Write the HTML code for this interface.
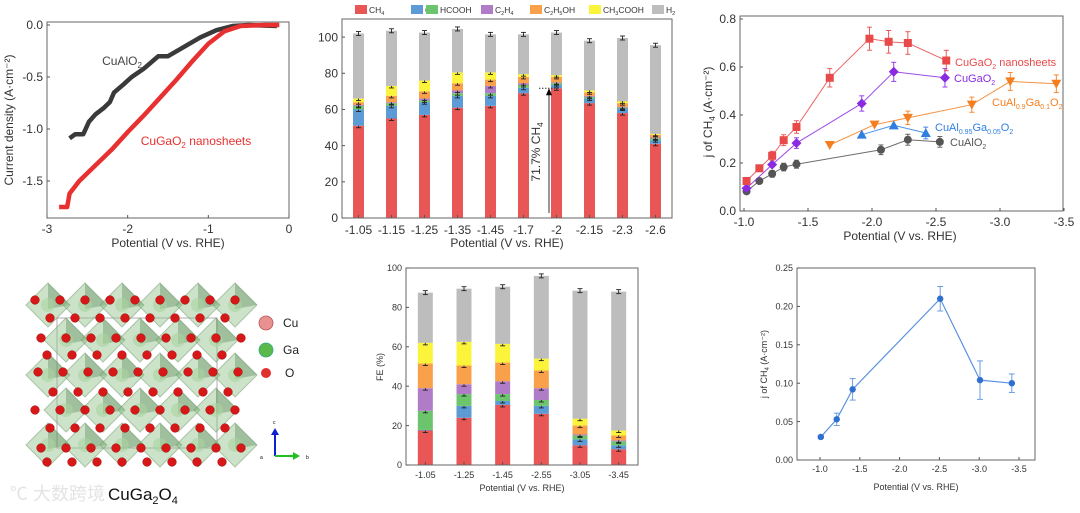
<!DOCTYPE html>
<html><head><meta charset="utf-8"><style>
html,body{margin:0;padding:0;background:#fff;width:1080px;height:513px;overflow:hidden}
svg{display:block;font-family:"Liberation Sans","Noto Sans CJK SC",sans-serif}
</style></head><body>
<svg id="fig" width="1080" height="513" viewBox="0 0 1080 513" xmlns="http://www.w3.org/2000/svg"></svg>
<script>
// ---------- Data ----------
const lsvAlO2V = [-2.72,-2.65,-2.55,-2.48,-2.4,-2.3,-2.22,-2.17,-2.05,-1.95,-1.8,-1.68,-1.62,-1.5,-1.3,-1.1,-0.9,-0.7,-0.5,-0.15];
const lsvAlO2J = [-1.09,-1.05,-1.05,-0.93,-0.86,-0.8,-0.74,-0.65,-0.57,-0.5,-0.42,-0.34,-0.3,-0.3,-0.21,-0.12,-0.05,-0.01,0,-0.01];
const lsvGaV = [-2.85,-2.75,-2.72,-2.6,-2.4,-2.2,-2.0,-1.8,-1.6,-1.4,-1.2,-1.0,-0.8,-0.6,-0.3,-0.12];
const lsvGaJ = [-1.75,-1.75,-1.62,-1.5,-1.35,-1.2,-1.03,-0.87,-0.7,-0.53,-0.35,-0.18,-0.06,-0.01,0,0];
const lsvXTicks = [-3,-2,-1,0];
const lsvYTicks = [0.0,-0.5,-1.0,-1.5];
const feCats = ["-1.05","-1.15","-1.25","-1.35","-1.45","-1.7","-2","-2.15","-2.3","-2.6"];
const feCH4 = [51,55,57,61,62,69,71.7,63.5,58,41];
const feCO = [9,7,7,6.5,5.5,3,1.8,2.5,2.5,2];
const feHCOOH = [2,1.5,1,1.5,1.5,1.5,1,1,0.5,1];
const feC2H4 = [0.5,0.5,1,1.5,4,1,0.5,0.5,0.5,0.5];
const feC2H5OH = [1.5,3.5,4,4,3.5,3.5,3,2,2,1.5];
const feCH3COOH = [2,5.5,6,6,4,1.5,1,1,1,0.5];
const feH2 = [36,30.5,26.5,24,21,22,23.5,27.5,35,49];
const feYTicks = [0,20,40,60,80,100];
const seriesNames = ["CH4","CO","HCOOH","C2H4","C2H5OH","CH3COOH","H2"];
const jNsV = [-1.02,-1.12,-1.22,-1.31,-1.41,-1.67,-1.98,-2.13,-2.28,-2.58];
const jNsJ = [0.125,0.178,0.23,0.295,0.35,0.555,0.718,0.705,0.70,0.627];
const jGaV = [-1.02,-1.22,-1.41,-1.92,-2.17,-2.57];
const jGaJ = [0.095,0.193,0.283,0.448,0.58,0.555];
const jAl9V = [-1.67,-2.02,-2.28,-2.78,-3.08,-3.44];
const jAl9J = [0.275,0.36,0.388,0.443,0.54,0.53];
const jAl95V = [-1.92,-2.17,-2.42];
const jAl95J = [0.318,0.357,0.325];
const jAlV = [-1.02,-1.12,-1.22,-1.31,-1.41,-2.07,-2.28,-2.53];
const jAlJ = [0.082,0.125,0.155,0.183,0.195,0.255,0.297,0.288];
const jXTicks = [-1.0,-1.5,-2.0,-2.5,-3.0,-3.5];
const jYTicks = [0.0,0.2,0.4,0.6,0.8];
const fe2Cats = ["-1.05","-1.25","-1.45","-2.55","-3.05","-3.45"];
const fe2CH4 = [17.5,24,30.5,26,10,8];
const fe2CO = [0.3,6,2,4,3,2];
const fe2HCOOH = [9.7,6,3.5,3,2,2];
const fe2C2H4 = [11.5,5,6.5,6,0.5,0.5];
const fe2C2H5OH = [12.5,9.5,9.5,9,4.5,2.5];
const fe2CH3COOH = [10.5,12,9.5,6,3.5,2.5];
const fe2H2 = [25.5,27,29,42,65,70.5];
const fe2YTicks = [0,20,40,60,80,100];
const j2V = [-1.01,-1.21,-1.41,-2.51,-3.01,-3.41];
const j2J = [0.03,0.053,0.092,0.21,0.104,0.10];
const j2Err = [0.002,0.008,0.014,0.016,0.025,0.012];
const j2XTicks = [-1.0,-1.5,-2.0,-2.5,-3.0,-3.5];
const j2YTicks = [0.00,0.05,0.10,0.15,0.20,0.25];

const colors = ["#e85656","#5c9bd6","#6cc46c","#b07cc8","#f8a04a","#fbf43a","#bdbdbd"];
const NS = "http://www.w3.org/2000/svg";
const svg = document.getElementById("fig");

function mk(tag, attrs, name, parent, text) {
  const e = document.createElementNS(NS, tag);
  for (const k in attrs) e.setAttribute(k, attrs[k]);
  
  
  if (text !== undefined) e.textContent = text;
  (parent || svg).appendChild(e);
  return e;
}
function lin(d0, d1, p0, p1) { return v => p0 + (v - d0) * (p1 - p0) / (d1 - d0); }
function frame(x0, y0, x1, y1, name) {
  mk("rect", {x:x0, y:y0, width:x1-x0, height:y1-y0, fill:"none", stroke:"#666", "stroke-width":1}, name);
}
function yTicks(ticks, sy, x0, fs, fmt, name) {
  ticks.forEach(t => {
    const y = sy(t);
    mk("line", {x1:x0, x2:x0+3, y1:y, y2:y, stroke:"#555"}, name + "-tick");
    mk("text", {x:x0-4, y:y+fs*0.35, "font-size":fs, "text-anchor":"end", fill:"#333"}, name + "-label", null, fmt(t));
  });
}
function xTicks(ticks, sx, y0, fs, fmt, name) {
  ticks.forEach(t => {
    const x = sx(t);
    mk("line", {x1:x, x2:x, y1:y0, y2:y0-3, stroke:"#555"}, name + "-tick");
    mk("text", {x:x, y:y0+fs+3, "font-size":fs, "text-anchor":"middle", fill:"#333"}, name + "-label", null, fmt(t));
  });
}
function label(x, y, fs, txt, name, rot, color) {
  const a = {x:x, y:y, "font-size":fs, "text-anchor":"middle", fill:color || "#333"};
  if (rot) a.transform = "rotate(-90 " + x + " " + y + ")";
  return mk("text", a, name, null, txt);
}
function errBar(x, y1, y2, w, col, name) {
  mk("line", {x1:x, x2:x, y1:y1, y2:y2, stroke:col, "stroke-width":0.9}, name);
  mk("line", {x1:x-w, x2:x+w, y1:y1, y2:y1, stroke:col, "stroke-width":0.9}, name + "-cap");
  mk("line", {x1:x-w, x2:x+w, y1:y2, y2:y2, stroke:col, "stroke-width":0.9}, name + "-cap");
}

(function(){
  const sx = lin(-3, 0, 47, 289), sy = lin(0, -1.5, 25, 181);
  frame(47, 22, 289, 218, "lsv-plot-frame");
  yTicks(lsvYTicks, sy, 47, 12, t => t.toFixed(1), "lsv-y");
  xTicks(lsvXTicks, sx, 218, 12, t => String(t), "lsv-x");
  const pa = lsvAlO2V.map((v,i) => sx(v) + "," + sy(lsvAlO2J[i])).join(" ");
  mk("polyline", {points:pa, fill:"none", stroke:"#3a3a3a", "stroke-width":4.5, "stroke-linejoin":"round"}, "cualo2-lsv-curve");
  const pg = lsvGaV.map((v,i) => sx(v) + "," + sy(lsvGaJ[i])).join(" ");
  mk("polyline", {points:pg, fill:"none", stroke:"#e83030", "stroke-width":4.5, "stroke-linejoin":"round"}, "cugao2-lsv-curve");
  const t1 = label(122, 65, 12, "CuAlO", "cualo2-label", false, "#444");
  mk("tspan", {"font-size":8, dy:3}, "subscript", t1, "2");
  const t2 = label(196, 145, 12, "CuGaO", "cugao2-nanosheets-label", false, "#e83030");
  mk("tspan", {"font-size":8, dy:3}, "subscript", t2, "2");
  mk("tspan", {dy:-3}, "label-rest", t2, " nanosheets");
  label(168, 247, 12, "Potential (V vs. RHE)", "lsv-x-axis-title");
  label(13, 120, 12, "Current density (A·cm⁻²)", "lsv-y-axis-title", true);
})();

function stacked(cats, series, x0, x1, y0, y1, ymax, bw, name, fs) {
  const sy = lin(0, ymax, y1, y0);
  const n = cats.length, step = (x1 - x0) / n;
  cats.forEach((c, i) => {
    const cx = x0 + step * (i + 0.5);
    let acc = 0;
    series.forEach((s, k) => {
      const v = s[i];
      mk("rect", {x:cx-bw/2, y:sy(acc+v), width:bw, height:sy(acc)-sy(acc+v), fill:colors[k]}, name + "-bar-" + seriesNames[k].toLowerCase());
      acc += v;
      if (v > 0.4) errBar(cx, sy(acc) - 2, sy(acc) + 2, 2.5, "#222", name + "-error-bar");
    });
    mk("line", {x1:cx, x2:cx, y1:y1, y2:y1-3, stroke:"#555"}, name + "-x-tick");
    mk("text", {x:cx, y:y1+fs+4, "font-size":fs, "text-anchor":"middle", fill:"#333"}, name + "-x-label", null, c);
  });
  return sy;
}

(function(){
  const legendTxt = [["CH","4"],["CO",""],["HCOOH",""],["C","2","H","4"],["C","2","H","5","OH"],["CH","3","COOH"],["H","2"]];
  const lx = [355,411,426,481,530,589,652];
  legendTxt.forEach((p,k) => {
    mk("rect", {x:lx[k], y:5, width:12, height:9, fill:colors[k]}, "legend-swatch-" + seriesNames[k].toLowerCase());
    const t = mk("text", {x:lx[k]+14, y:13, "font-size":8.5, fill:"#333"}, "legend-entry-" + seriesNames[k].toLowerCase(), null, "");
    p.forEach((s,j) => { mk("tspan", j%2 ? {"font-size":5.5, dy:2} : {dy: j ? -2 : 0}, "legend-text-part", t, s); });
  });
  const sy = stacked(feCats, [feCH4,feCO,feHCOOH,feC2H4,feC2H5OH,feCH3COOH,feH2], 342, 672, 19, 218, 110, 11, "fe-cugao2", 12);
  frame(342, 19, 672, 218, "fe-cugao2-plot-frame");
  yTicks(feYTicks, sy, 342, 12, t => String(t), "fe-cugao2-y");
  const ax = 549;
  mk("line", {x1:ax, x2:ax, y1:213, y2:sy(71.7)+6, stroke:"#333", "stroke-width":1}, "ch4-arrow-shaft");
  mk("polygon", {points:(ax-3)+","+(sy(71.7)+7)+" "+(ax+3)+","+(sy(71.7)+7)+" "+ax+","+sy(71.7)}, "ch4-arrow-head");
  mk("line", {x1:ax-10, x2:ax+10, y1:sy(71.7), y2:sy(71.7), stroke:"#333", "stroke-dasharray":"1.5,1.5"}, "ch4-dotted-line");
  const t = label(540, 152, 12, "71.7% CH", "ch4-annotation", true);
  mk("tspan", {"font-size":8, dy:3}, "subscript", t, "4");
  label(507, 247, 12, "Potential (V vs. RHE)", "fe-cugao2-x-axis-title");
})();

(function(){
  const sx = lin(-1.0, -3.5, 744, 1064), sy = lin(0, 0.8, 211, 19);
  frame(740, 16, 1063, 211, "jch4-plot-frame");
  yTicks(jYTicks, sy, 740, 12, t => t.toFixed(1), "jch4-y");
  xTicks(jXTicks, sx, 211, 12, t => t.toFixed(1), "jch4-x");
  const defs = [
    [jAlV, jAlJ, "#555555", "circle", "cualo2"],
    [jAl9V, jAl9J, "#f57f20", "down", "cual09ga01o2"],
    [jAl95V, jAl95J, "#2f7fe0", "up", "cual095ga005o2"],
    [jGaV, jGaJ, "#8a2be2", "diamond", "cugao2"],
    [jNsV, jNsJ, "#e84a4a", "square", "cugao2-nanosheets"]
  ];
  defs.forEach(([V,J,col,shape,nm]) => {
    const pts = V.map((v,i) => sx(v) + "," + sy(J[i])).join(" ");
    mk("polyline", {points:pts, fill:"none", stroke:col, "stroke-width":1, opacity:0.85}, nm + "-line");
    V.forEach((v,i) => {
      const x = sx(v), y = sy(J[i]);
      const e = J[i] * 0.06 + 0.005;
      if (i > 1) errBar(x, sy(J[i]+e), sy(J[i]-e), 2.5, col, nm + "-error-bar");
      if (shape === "circle") mk("circle", {cx:x, cy:y, r:4, fill:col}, nm + "-point");
      else if (shape === "square") mk("rect", {x:x-4, y:y-4, width:8, height:8, fill:col}, nm + "-point");
      else if (shape === "diamond") mk("polygon", {points:`${x},${y-5} ${x+5},${y} ${x},${y+5} ${x-5},${y}`, fill:col}, nm + "-point");
      else if (shape === "up") mk("polygon", {points:`${x},${y-5} ${x+5},${y+4} ${x-5},${y+4}`, fill:col}, nm + "-point");
      else mk("polygon", {points:`${x},${y+5} ${x+5},${y-4} ${x-5},${y-4}`, fill:col}, nm + "-point");
    });
  });
  function lab(x,y,col,parts,nm){
    const t = mk("text", {x:x, y:y, "font-size":11, fill:col}, nm, null, "");
    parts.forEach((s,j) => mk("tspan", j%2 ? {"font-size":7, dy:3} : {dy: j ? -3 : 0}, "label-part", t, s));
  }
  lab(955, 66, "#e84a4a", ["CuGaO","2"," nanosheets"], "cugao2-nanosheets-label");
  lab(954, 82, "#8a2be2", ["CuGaO","2"], "cugao2-label");
  lab(992, 106, "#f57f20", ["CuAl","0.9","Ga","0.1","O","2"], "cual09ga01o2-label");
  lab(935, 131, "#2f7fe0", ["CuAl","0.95","Ga","0.05","O","2"], "cual095ga005o2-label");
  lab(950, 146, "#555", ["CuAlO","2"], "cualo2-label");
  label(900, 240, 12, "Potential (V vs. RHE)", "jch4-x-axis-title");
  const t = label(712, 112, 12, "j of CH", "jch4-y-axis-title", true);
  mk("tspan", {"font-size":8, dy:3}, "subscript", t, "4");
  mk("tspan", {dy:-3}, "label-rest", t, " (A·cm⁻²)");
})();

(function(){
  const g = mk("g", {}, "cuga2o4-crystal-structure");
  mk("rect", {x:57, y:318, width:160, height:130, fill:"none", stroke:"#999", "stroke-width":0.8}, "unit-cell", g);
  const cols = [48,85,122,160,198,235];
  const rows = [305,340,375,410,445];
  rows.forEach((y,r) => cols.forEach((x,c) => {
    const ox = x + (r%2 ? 18 : 0);
    if (ox > 250) return;
    mk("polygon", {points:`${ox},${y-22} ${ox+22},${y} ${ox},${y+22} ${ox-22},${y}`, fill:"#8fc08a", "fill-opacity":0.45, stroke:"#6f9a6b", "stroke-opacity":0.5}, "ga-octahedron", g);
    mk("polygon", {points:`${ox},${y-22} ${ox+22},${y} ${ox},${y+4}`, fill:"#4d7a4a", "fill-opacity":0.35}, "octahedron-face", g);
    mk("circle", {cx:ox, cy:y, r:7, fill:"#a8d4a0", "fill-opacity":0.6}, "ga-atom", g);
  }));
  const oRows = [300,318,338,355,372,392,410,428,448,462];
  oRows.forEach((y,r) => {
    for (let c = 0; c < 9; c++) {
      const x = 35 + c*25 + (r%2 ? 12 : 0) + (r%3)*3;
      if (x > 245) continue;
      mk("circle", {cx:x, cy:y, r:4.3, fill:"#d81818", stroke:"#900", "stroke-width":0.5}, "o-atom", g);
    }
  });
  mk("circle", {cx:266, cy:323, r:7, fill:"#e99090", stroke:"#b55", "stroke-width":0.8}, "legend-cu-ball");
  mk("text", {x:283, y:327, "font-size":12, fill:"#222"}, "legend-cu-label", null, "Cu");
  mk("circle", {cx:266, cy:350, r:7, fill:"#5bb84a", stroke:"#3a8", "stroke-width":0.8}, "legend-ga-ball");
  mk("text", {x:283, y:354, "font-size":12, fill:"#222"}, "legend-ga-label", null, "Ga");
  mk("circle", {cx:266, cy:373, r:5, fill:"#e03030"}, "legend-o-ball");
  mk("text", {x:285, y:377, "font-size":12, fill:"#222"}, "legend-o-label", null, "O");
  mk("line", {x1:275, x2:275, y1:456, y2:433, stroke:"#1020d0", "stroke-width":2}, "axis-c-arrow");
  mk("polygon", {points:"271,435 279,435 275,428", fill:"#1020d0"}, "axis-c-head");
  mk("line", {x1:275, x2:295, y1:456, y2:456, stroke:"#20c020", "stroke-width":2}, "axis-b-arrow");
  mk("polygon", {points:"293,452 300,456 293,460", fill:"#20c020"}, "axis-b-head");
  mk("text", {x:273, y:424, "font-size":5}, "axis-c-label", null, "c");
  mk("text", {x:306, y:459, "font-size":5}, "axis-b-label", null, "b");
  mk("text", {x:260, y:459, "font-size":5}, "axis-a-label", null, "a");
  const t = mk("text", {x:108, y:500, "font-size":17, fill:"#111"}, "cuga2o4-title", null, "CuGa");
  mk("tspan", {"font-size":11, dy:4}, "subscript", t, "2");
  mk("tspan", {dy:-4}, "title-part", t, "O");
  mk("tspan", {"font-size":11, dy:4}, "subscript", t, "4");
  mk("text", {x:10, y:500, "font-size":18, fill:"#ddd", opacity:0.8}, "watermark", null, "℃ 大数跨境");
})();

(function(){
  const sy = stacked(fe2Cats, [fe2CH4,fe2CO,fe2HCOOH,fe2C2H4,fe2C2H5OH,fe2CH3COOH,fe2H2], 406, 638, 268, 465, 100, 15, "fe-cuga2o4", 9);
  frame(406, 268, 638, 465, "fe-cuga2o4-plot-frame");
  yTicks(fe2YTicks, sy, 406, 9, t => String(t), "fe-cuga2o4-y");
  label(522, 491, 9, "Potential (V vs. RHE)", "fe-cuga2o4-x-axis-title");
  label(383, 367, 9, "FE (%)", "fe-cuga2o4-y-axis-title", true);
})();

(function(){
  const sx = lin(-1.0, -3.5, 820, 1019), sy = lin(0, 0.25, 460, 268);
  frame(797, 268, 1035, 460, "jch4-cuga2o4-plot-frame");
  yTicks(j2YTicks, sy, 797, 9, t => t.toFixed(2), "jch4-cuga2o4-y");
  xTicks(j2XTicks, sx, 460, 9, t => t.toFixed(1), "jch4-cuga2o4-x");
  const pts = j2V.map((v,i) => sx(v) + "," + sy(j2J[i])).join(" ");
  mk("polyline", {points:pts, fill:"none", stroke:"#5b93de", "stroke-width":1.2}, "jch4-cuga2o4-line");
  j2V.forEach((v,i) => {
    errBar(sx(v), sy(j2J[i]+j2Err[i]), sy(j2J[i]-j2Err[i]), 3, "#5b93de", "jch4-cuga2o4-error-bar");
    mk("circle", {cx:sx(v), cy:sy(j2J[i]), r:3.2, fill:"#2f6fd0"}, "jch4-cuga2o4-point");
  });
  label(916, 490, 9, "Potential (V vs. RHE)", "jch4-cuga2o4-x-axis-title");
  const t = label(767, 364, 9, "j of CH", "jch4-cuga2o4-y-axis-title", true);
  mk("tspan", {"font-size":6, dy:2}, "subscript", t, "4");
  mk("tspan", {dy:-2}, "label-rest", t, " (A·cm⁻²)");
})();
</script>
</body></html>
